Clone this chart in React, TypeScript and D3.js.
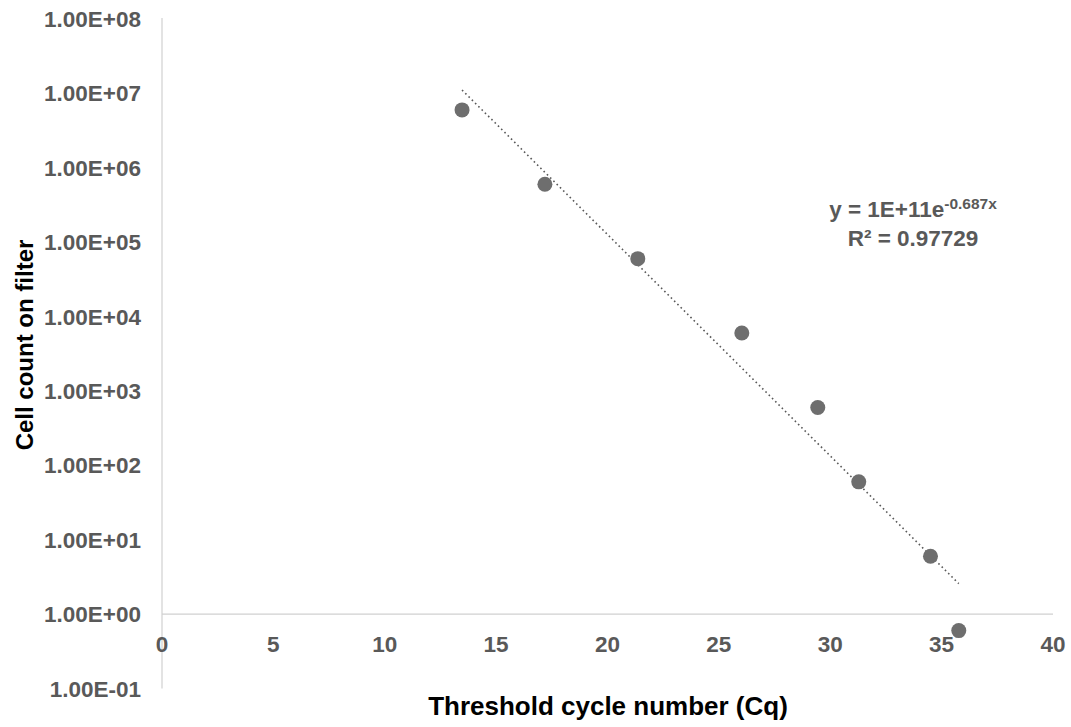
import React from "react";
import * as d3 from "d3";

const cqValues = [13.47, 17.19, 21.36, 26.03, 29.44, 31.28, 34.5, 35.77];
const cellCounts = [6e6, 6e5, 6e4, 6e3, 6e2, 60, 6, 0.6];
const yTicks = [1e-1, 1e0, 1e1, 1e2, 1e3, 1e4, 1e5, 1e6, 1e7, 1e8];
const xTicks = [0, 5, 10, 15, 20, 25, 30, 35, 40];
const equationMain = "y = 1E+11e";
const equationExp = "-0.687x";
const rSquared = "R² = 0.97729";

const W = 1071;
const H = 727;

function fmtExp(v: number) {
  const e = Math.round(Math.log10(v));
  const sign = e < 0 ? "-" : "+";
  const abs = Math.abs(e);
  return `1.00E${sign}${abs < 10 ? "0" + abs : abs}`;
}

export default function App() {
  const x = d3.scaleLinear().domain([0, 40]).range([162, 1053]);
  const y = d3.scaleLog().domain([0.1, 1e8]).range([688.5, 19]);

  // least-squares exponential fit (ln y vs x)
  const lny = cellCounts.map((v) => Math.log(v));
  const mx = d3.mean(cqValues) as number;
  const my = d3.mean(lny) as number;
  let sxy = 0, sxx = 0;
  cqValues.forEach((xv, i) => {
    sxy += (xv - mx) * (lny[i] - my);
    sxx += (xv - mx) * (xv - mx);
  });
  const b = sxy / sxx;
  const a = my - b * mx;
  const xMin = d3.min(cqValues) as number;
  const xMax = d3.max(cqValues) as number;
  const fitPts = d3.range(0, 51).map((i) => {
    const xv = xMin + ((xMax - xMin) * i) / 50;
    return [xv, Math.exp(a + b * xv)] as [number, number];
  });
  const line = d3
    .line<[number, number]>()
    .x((d) => x(d[0]))
    .y((d) => y(d[1]));

  const font = "'Liberation Sans', Arial, sans-serif";
  const axisY = y(1);

  return (
    <svg width={W} height={H} style={{ position: "absolute", left: 0, top: 0 }} fontFamily={font}>
      <rect width={W} height={H} fill="#ffffff" />
      {/* axes */}
      <line x1={x(0)} x2={x(0)} y1={y(1e8) - 1} y2={y(0.1)} stroke="#d0d0d0" strokeWidth={1.2} />
      <line x1={x(0)} x2={x(40)} y1={axisY} y2={axisY} stroke="#d0d0d0" strokeWidth={1.2} />
      {/* y tick labels */}
      {yTicks.map((t) => (
        <text
          key={t}
          x={141}
          y={y(t)}
          dy="0.36em"
          textAnchor="end"
          fontSize={22.5}
          fontWeight="bold"
          fill="#595959"
        >
          {fmtExp(t)}
        </text>
      ))}
      {/* x tick labels */}
      {xTicks.map((t) => (
        <text
          key={t}
          x={x(t)}
          y={axisY + 38}
          textAnchor="middle"
          fontSize={22.5}
          fontWeight="bold"
          fill="#595959"
        >
          {t}
        </text>
      ))}
      {/* trendline */}
      <path
        d={line(fitPts) || ""}
        fill="none"
        stroke="#595959"
        strokeWidth={1.6}
        strokeDasharray="1.6 3"
      />
      {/* points */}
      {cqValues.map((c, i) => (
        <circle key={i} cx={x(c)} cy={y(cellCounts[i])} r={7.5} fill="#6e6e6e" />
      ))}
      {/* equation */}
      <text x={913} y={217} textAnchor="middle" fontSize={22.5} fontWeight="bold" fill="#595959">
        {equationMain}
        <tspan fontSize={15.5} dy={-8}>{equationExp}</tspan>
      </text>
      <text x={913} y={246} textAnchor="middle" fontSize={22.5} fontWeight="bold" fill="#595959">
        {rSquared}
      </text>
      {/* axis titles */}
      <text
        x={608}
        y={715}
        textAnchor="middle"
        fontSize={26}
        fontWeight="bold"
        fill="#000000"
      >
        Threshold cycle number (Cq)
      </text>
      <text
        transform={`translate(33, 345) rotate(-90)`}
        textAnchor="middle"
        fontSize={24}
        fontWeight="bold"
        fill="#000000"
      >
        Cell count on filter
      </text>
    </svg>
  );
}
